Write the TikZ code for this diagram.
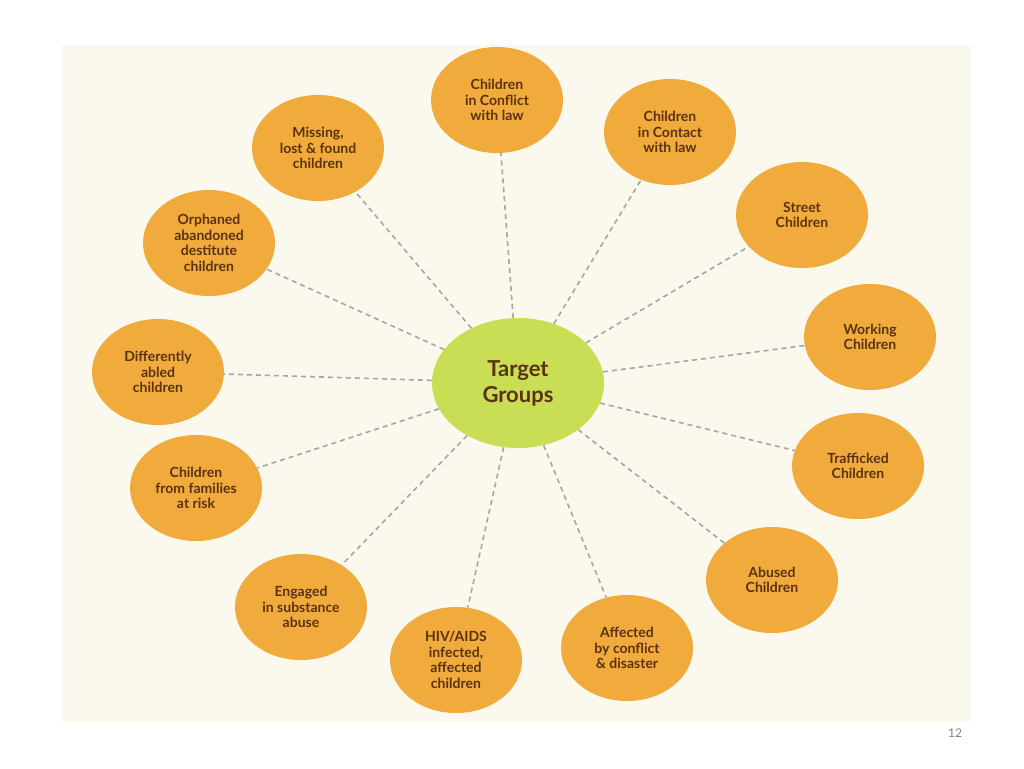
\documentclass[tikz,border=0pt]{standalone}
\usepackage{fontspec}
\setmainfont{Lato}
\usetikzlibrary{shapes.geometric}
\definecolor{cream}{HTML}{FBF8EE}
\definecolor{orng}{HTML}{F1AA3C}
\definecolor{grn}{HTML}{C9DD55}
\definecolor{txt}{HTML}{5A3212}
\tikzset{
 outer/.style={ellipse,fill=orng,minimum width=132pt,minimum height=106pt,inner sep=0pt,align=center,font=\bfseries\fontsize{14}{15.5}\selectfont,text=txt},
 center/.style={ellipse,fill=grn,minimum width=172pt,minimum height=130pt,align=center,font=\bfseries\fontsize{22}{26}\selectfont,text=txt},
 link/.style={draw=gray!70,line width=1.6pt,dash pattern=on 5pt off 4pt}
}
\begin{document}
\begin{tikzpicture}[x=1pt,y=-1pt]
\useasboundingbox (0,0) rectangle (1024,768);
\fill[white] (0,0) rectangle (1024,768);
\fill[cream] (62,45) rectangle (970,722);
\node[center] (c) at (518,383) {Target\\Groups};
\node[outer] (n1) at (497,100) {Children\\in Conflict\\with law};
\node[outer] (n2) at (670,132) {Children\\in Contact\\with law};
\node[outer] (n3) at (802,215) {Street\\Children};
\node[outer] (n4) at (870,337) {Working\\Children};
\node[outer] (n5) at (858,466) {Trafficked\\Children};
\node[outer] (n6) at (772,580) {Abused\\Children};
\node[outer] (n7) at (627,648) {Affected\\by conflict\\\& disaster};
\node[outer] (n8) at (456,660) {HIV/AIDS\\infected,\\affected\\children};
\node[outer] (n9) at (301,607) {Engaged\\in substance\\abuse};
\node[outer] (n10) at (196,488) {Children\\from families\\at risk};
\node[outer] (n11) at (158,372) {Differently\\abled\\children};
\node[outer] (n12) at (209,243) {Orphaned\\abandoned\\destitute\\children};
\node[outer] (n13) at (318,148) {Missing,\\lost \& found\\children};
\foreach \i in {1,...,13} \draw[link] (c) -- (n\i);
\node[font=\fontsize{12}{12}\selectfont,text=gray] (pg) at (955,733) {12};
\end{tikzpicture}
\end{document}
